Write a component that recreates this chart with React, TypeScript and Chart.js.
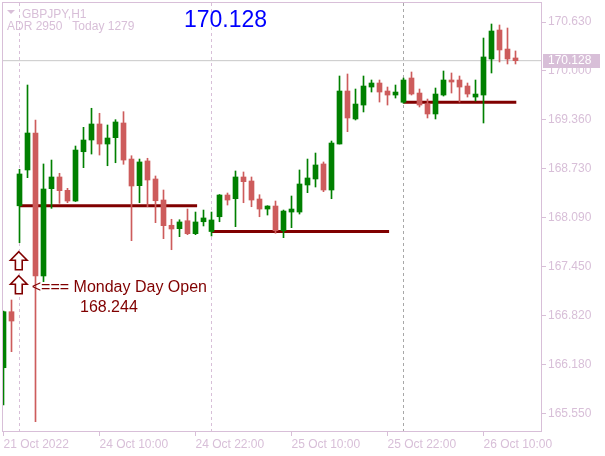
import React, { useEffect, useRef } from "react";
import { Chart, registerables } from "chart.js";

Chart.register(...registerables);

// ---------- data ----------
const SYMBOL = "GBPJPY,H1";
const ADR_TEXT = "ADR 2950   Today 1279";

const X_TICK_INDEX = [0, 12, 24, 36, 48, 60];
const X_TICK_LABELS = ["21 Oct 2022", "24 Oct 10:00", "24 Oct 22:00", "25 Oct 10:00", "25 Oct 22:00", "26 Oct 10:00"];
const Y_TICKS = [165.55, 166.18, 166.82, 167.45, 168.09, 168.73, 169.36, 170.0, 170.63];

const OPEN = [
  166.142, 166.869, 168.244, 168.709, 169.189, 167.333, 168.466, 168.618, 168.445, 168.306,
  168.946, 169.098, 169.306, 169.046, 169.128, 169.319, 168.851, 168.505, 168.826, 168.592,
  168.319, 167.991, 167.947, 168.050, 167.882, 168.037, 167.910, 168.102, 168.384, 168.336,
  168.618, 168.566, 168.332, 168.202, 168.241, 167.921, 168.163, 168.163, 168.514, 168.592,
  168.787, 168.449, 169.046, 169.734, 169.371, 169.552, 169.786, 169.838, 169.734, 169.682,
  169.588, 169.903, 169.708, 169.565, 169.436, 169.682, 169.877, 169.877, 169.799, 169.656,
  169.682, 170.150, 170.526, 170.279, 170.163,
];
const HIGH = [
  166.878, 167.021, 168.718, 169.812, 169.358, 168.787, 168.838, 168.666, 168.471, 169.020,
  169.263, 169.510, 169.445, 169.293, 169.362, 169.466, 168.894, 168.851, 168.861, 168.631,
  168.449, 168.069, 168.063, 168.202, 168.163, 168.189, 168.163, 168.390, 168.410, 168.696,
  168.683, 168.618, 168.388, 168.245, 168.306, 168.189, 168.371, 168.709, 168.851, 168.929,
  168.813, 169.085, 169.929, 169.955, 169.760, 169.929, 169.877, 169.877, 169.786, 169.812,
  169.903, 169.981, 169.760, 169.630, 169.773, 169.994, 169.968, 169.929, 169.838, 169.877,
  170.422, 170.604, 170.591, 170.552, 170.254,
];
const LOW = [
  165.658, 166.350, 167.765, 168.609, 165.441, 167.259, 168.211, 168.276, 168.284, 168.300,
  168.739, 168.916, 168.903, 168.764, 168.803, 168.783, 167.791, 168.284, 168.232, 168.025,
  167.817, 167.674, 167.843, 167.869, 167.869, 167.982, 167.852, 168.037, 168.254, 167.973,
  168.284, 168.232, 168.102, 168.124, 167.887, 167.830, 167.960, 168.137, 168.414, 168.488,
  168.427, 168.336, 169.046, 169.206, 169.358, 169.462, 169.721, 169.591, 169.552, 169.643,
  169.575, 169.682, 169.527, 169.384, 169.371, 169.669, 169.708, 169.591, 169.656, 169.604,
  169.319, 169.968, 170.111, 170.085, 170.085,
];
const CLOSE = [
  166.869, 166.748, 168.657, 169.189, 167.333, 168.462, 168.618, 168.440, 168.306, 168.968,
  169.098, 169.306, 169.046, 169.124, 169.332, 168.838, 168.501, 168.813, 168.579, 168.310,
  167.986, 167.943, 168.034, 167.882, 168.034, 168.086, 168.060, 168.384, 168.319, 168.618,
  168.557, 168.319, 168.202, 168.241, 167.921, 168.176, 168.202, 168.527, 168.605, 168.774,
  168.449, 169.059, 169.734, 169.384, 169.565, 169.799, 169.838, 169.721, 169.682, 169.721,
  169.877, 169.695, 169.552, 169.436, 169.695, 169.877, 169.851, 169.786, 169.695, 169.695,
  170.176, 170.513, 170.267, 170.150, 170.128,
];

// day-open levels (price, first bar index, end index)
const DAY_OPEN_PRICE = [168.244, 167.91, 169.588];
const DAY_OPEN_START = [2, 26, 50];
const DAY_OPEN_END = [24.2, 48.2, 64.1];

// period separators (bar index) and their colours
const SEPARATOR_INDEX = [2, 26, 50];
const SEPARATOR_COLOR = ["#D8BFD8", "#D8BFD8", "#A8A8A8"];

// annotation: arrows (bar index, top price) and texts (bar index, baseline price)
const ARROW_INDEX = [2, 2];
const ARROW_TOP_PRICE = [167.648, 167.336];
const NOTE_TEXT = ["<=== Monday Day Open", "168.244"];
const NOTE_INDEX = [3.53, 9.56];
const NOTE_PRICE = [167.125, 166.859];

const BID = CLOSE[CLOSE.length - 1];

const X_MIN = -0.0625;
const X_MAX = 67.1875;
const Y_MIN = 165.3074;
const Y_MAX = 170.8767;

const UP = "#008000";
const DOWN = "#CD5C5C";
const THISTLE = "#D8BFD8";
const MAROON = "#800000";
const FONT = "'Liberation Sans', Arial, sans-serif";

const overlayPlugin = {
  id: "mtOverlay",
  beforeDatasetsDraw(chart: any) {
    const { ctx, chartArea } = chart;
    const xs = chart.scales.x;
    ctx.save();
    ctx.lineWidth = 1;
    ctx.setLineDash([3, 3]);
    SEPARATOR_INDEX.forEach((k, i) => {
      const x = xs.getPixelForValue(k);
      ctx.strokeStyle = SEPARATOR_COLOR[i];
      ctx.beginPath();
      ctx.moveTo(x, chartArea.top);
      ctx.lineTo(x, chartArea.bottom);
      ctx.stroke();
    });
    ctx.restore();
  },
  afterDatasetsDraw(chart: any) {
    const { ctx } = chart;
    const xs = chart.scales.x;
    const ys = chart.scales.y;
    ctx.save();
    // arrows
    ARROW_INDEX.forEach((k, i) => {
      const cx = xs.getPixelForValue(k) - 0.7;
      const ty = ys.getPixelForValue(ARROW_TOP_PRICE[i]);
      ctx.beginPath();
      ctx.moveTo(cx, ty);
      ctx.lineTo(cx + 8.3, ty + 8.5);
      ctx.lineTo(cx + 3.4, ty + 8.5);
      ctx.lineTo(cx + 3.4, ty + 18);
      ctx.lineTo(cx - 3.4, ty + 18);
      ctx.lineTo(cx - 3.4, ty + 8.5);
      ctx.lineTo(cx - 8.3, ty + 8.5);
      ctx.closePath();
      ctx.fillStyle = "#ffffff";
      ctx.fill();
      ctx.strokeStyle = MAROON;
      ctx.lineWidth = 1.6;
      ctx.stroke();
    });
    // notes
    ctx.fillStyle = MAROON;
    ctx.font = `16px ${FONT}`;
    ctx.textAlign = "left";
    ctx.textBaseline = "alphabetic";
    NOTE_TEXT.forEach((t, i) => {
      ctx.fillText(t, xs.getPixelForValue(NOTE_INDEX[i]), ys.getPixelForValue(NOTE_PRICE[i]));
    });
    ctx.restore();
  },
  afterDraw(chart: any) {
    const { ctx, chartArea } = chart;
    const ys = chart.scales.y;
    ctx.save();
    // frame
    ctx.strokeStyle = THISTLE;
    ctx.lineWidth = 1;
    ctx.strokeRect(chartArea.left - 0.5, chartArea.top - 0.5, chartArea.right - chartArea.left + 1, chartArea.bottom - chartArea.top);
    // bid label box
    const by = ys.getPixelForValue(BID);
    ctx.fillStyle = THISTLE;
    ctx.fillRect(chartArea.right + 2, Math.round(by) - 7, 57, 14);
    ctx.fillStyle = "#ffffff";
    ctx.font = `12px ${FONT}`;
    ctx.textAlign = "left";
    ctx.textBaseline = "middle";
    ctx.fillText(BID.toFixed(3), chartArea.right + 7, by + 0.5);
    // header
    const L = chartArea.left;
    const T = chartArea.top;
    ctx.fillStyle = THISTLE;
    ctx.beginPath();
    ctx.moveTo(L + 4, T + 7);
    ctx.lineTo(L + 12, T + 7);
    ctx.lineTo(L + 8, T + 11);
    ctx.closePath();
    ctx.fill();
    ctx.font = `12px ${FONT}`;
    ctx.textBaseline = "alphabetic";
    ctx.fillText(SYMBOL, L + 19, T + 14.5);
    ctx.fillText(ADR_TEXT, L + 4, T + 26.5);
    ctx.fillStyle = "#0000FF";
    ctx.font = `23px ${FONT}`;
    ctx.fillText(BID.toFixed(3), L + 181, T + 24);
    ctx.restore();
  },
};

export default function App() {
  const ref = useRef<HTMLCanvasElement | null>(null);

  useEffect(() => {
    document.body.style.margin = "0";
    const canvas = ref.current;
    if (!canvas) return;

    const idx = OPEN.map((_, i) => i);
    const colors = idx.map((i) => (CLOSE[i] >= OPEN[i] ? UP : DOWN));

    const dayLines = DAY_OPEN_PRICE.map((p, i) => ({
      type: "line" as const,
      data: [
        { x: DAY_OPEN_START[i], y: p },
        { x: DAY_OPEN_END[i], y: p },
      ],
      borderColor: MAROON,
      borderWidth: 3,
      pointRadius: 0,
      order: 2,
    }));

    const chart = new Chart(canvas, {
      type: "bar",
      data: {
        datasets: [
          {
            type: "bar",
            data: idx.map((i) => ({ x: i, y: [OPEN[i], CLOSE[i]] })) as any,
            backgroundColor: colors,
            barThickness: 5,
            grouped: false,
            minBarLength: 1,
            borderWidth: 0,
            order: 0,
          },
          {
            type: "bar",
            data: idx.map((i) => ({ x: i, y: [LOW[i], HIGH[i]] })) as any,
            backgroundColor: colors,
            barThickness: 1,
            grouped: false,
            borderWidth: 0,
            order: 1,
          },
          ...dayLines,
          {
            type: "line",
            data: [
              { x: X_MIN, y: BID },
              { x: X_MAX, y: BID },
            ],
            borderColor: "#C8C8C8",
            borderWidth: 1,
            pointRadius: 0,
            order: 3,
          },
        ] as any,
      },
      options: {
        responsive: false,
        animation: false,
        events: [],
        layout: { padding: { left: 3, top: 3, right: 0, bottom: 0 } },
        plugins: { legend: { display: false }, tooltip: { enabled: false } },
        scales: {
          x: {
            type: "linear",
            offset: false,
            min: X_MIN,
            max: X_MAX,
            afterBuildTicks: (s: any) => {
              s.ticks = X_TICK_INDEX.map((v) => ({ value: v }));
            },
            afterFit: (s: any) => {
              s.height = 24;
              s.paddingLeft = 0;
              s.paddingRight = 0;
            },
            ticks: {
              callback: (_v: any, i: number) => X_TICK_LABELS[i],
              align: "start",
              maxRotation: 0,
              minRotation: 0,
              autoSkip: false,
              padding: 1,
              color: THISTLE,
              font: { family: FONT, size: 12 },
            },
            grid: { drawOnChartArea: false, drawTicks: true, tickLength: 4, color: THISTLE, offset: false },
            border: { display: false },
          },
          y: {
            type: "linear",
            position: "right",
            min: Y_MIN,
            max: Y_MAX,
            afterBuildTicks: (s: any) => {
              s.ticks = Y_TICKS.map((v) => ({ value: v }));
            },
            afterFit: (s: any) => {
              s.width = 64;
              s.paddingTop = 0;
              s.paddingBottom = 0;
            },
            ticks: {
              callback: (v: any) => Number(v).toFixed(3),
              autoSkip: false,
              padding: 2,
              color: THISTLE,
              font: { family: FONT, size: 12 },
            },
            grid: { drawOnChartArea: false, drawTicks: true, tickLength: 5, color: THISTLE },
            border: { display: false },
          },
        },
      } as any,
      plugins: [overlayPlugin],
    });

    return () => chart.destroy();
  }, []);

  return (
    <div style={{ width: 605, height: 456, background: "#ffffff" }}>
      <canvas ref={ref} width={605} height={456} />
    </div>
  );
}
